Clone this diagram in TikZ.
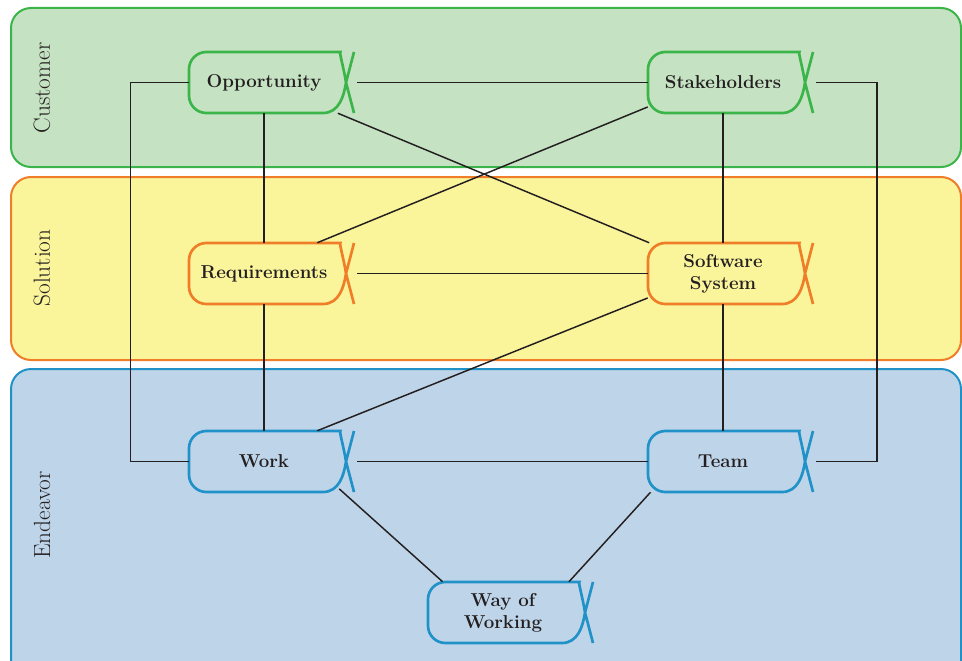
\documentclass[tikz,border=0pt]{standalone}
\usepackage{tikz}

\definecolor{custfill}{HTML}{C5E2C2}
\definecolor{custline}{HTML}{3BB54A}
\definecolor{solfill}{HTML}{FAF49B}
\definecolor{solline}{HTML}{F07D28}
\definecolor{endfill}{HTML}{BED4E9}
\definecolor{endline}{HTML}{2192C8}
\definecolor{ink}{HTML}{231F20}

\tikzset{
  band/.style = {line width=1.5pt, rounded corners=15pt},
  bandlabel/.style = {rotate=90, text=ink, font=\fontsize{17.5}{20}\selectfont},
  alphatext/.style = {draw=none, inner sep=0, minimum width=112.5pt, minimum height=45.75pt,
    align=center, text=ink, font=\bfseries\fontsize{14}{16.5}\selectfont},
  conn/.style = {line width=1.1pt, ink},
}

% alpha box: name, left x, top y, colour, text
\newcommand{\alphabox}[5]{%
  \node[alphatext] (#1) at (#2+75,#3+30.5) {#5};
  \draw[#4, line width=2pt]
    (#2+165,#3) -- (#2+157,#3+30.5)
    .. controls (#2+155,#3+44) and (#2+150,#3+61) .. (#2+134,#3+61)
    [rounded corners=13pt] -- (#2,#3+61) -- (#2,#3) -- (#2+134,#3) [sharp corners]
    .. controls (#2+150,#3) and (#2+155,#3+17) .. (#2+157,#3+30.5)
    -- (#2+165,#3+61);
  \coordinate (#1-tip) at (#2+168,#3+30.5);
}

\begin{document}
\begin{tikzpicture}[x=0.75pt, y=-0.75pt]
\path[use as bounding box, clip] (0,0) rectangle (962,660);

% areas of concern
\draw[band, custline, fill=custfill] (11,8) rectangle (961,167);
\draw[band, solline, fill=solfill] (11,177) rectangle (961,360);
\draw[band, endline, fill=endfill] (11,369) rectangle (961,690);
\node[bandlabel] (cust-lbl) at (42,88) {Customer};
\node[bandlabel] (sol-lbl) at (42,268) {Solution};
\node[bandlabel] (end-lbl) at (42,515) {Endeavor};

% alphas
\alphabox{opp}{189}{52}{custline}{Opportunity}
\alphabox{stake}{648}{52}{custline}{Stakeholders}
\alphabox{req}{189}{243}{solline}{Requirements}
\alphabox{soft}{648}{243}{solline}{Software\\System}
\alphabox{work}{189}{431}{endline}{Work}
\alphabox{team}{648}{431}{endline}{Team}
\alphabox{wow}{428}{582}{endline}{Way of\\Working}

% relations
\draw[conn] (opp.west) -- ++(-58,0) |- (work.west);
\draw[conn] (stake-tip) -- ++(61,0) |- (team-tip);
\draw[conn] (opp-tip) -- (stake.west);
\draw[conn] (req-tip) -- (soft.west);
\draw[conn] (work-tip) -- (team.west);
\draw[conn] (opp.south) -- (req.north);
\draw[conn] (req.south) -- (work.north);
\draw[conn] (stake.south) -- (soft.north);
\draw[conn] (soft.south) -- (team.north);
\draw[conn] (opp) -- (soft);
\draw[conn] (stake.198) -- (req.30);
\draw[conn] (soft.198) -- (work.30);
\draw[conn] (work.-20) -- (wow.153);
\draw[conn] (team.203) -- (wow.25);
\end{tikzpicture}
\end{document}
